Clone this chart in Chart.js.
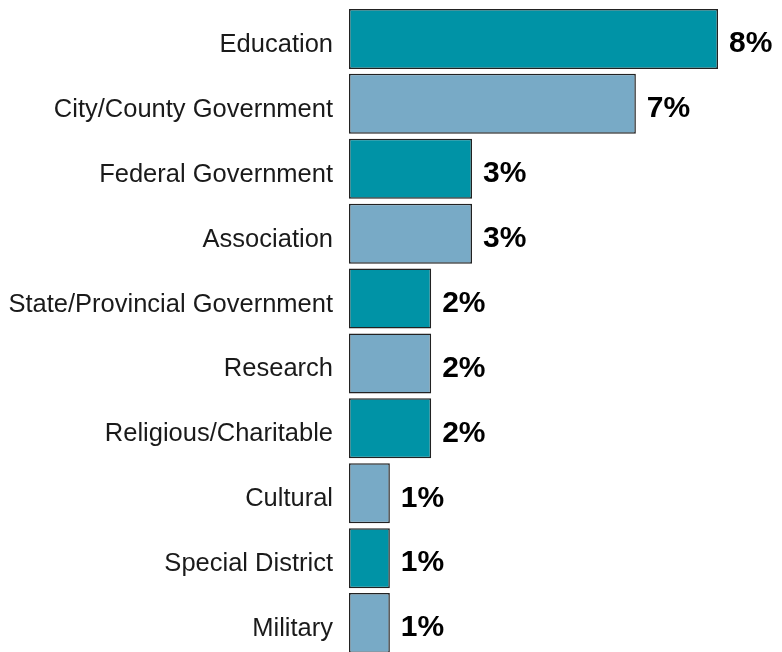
<!DOCTYPE html>
<html>
<head>
<meta charset="utf-8">
<script src="https://cdn.jsdelivr.net/npm/chart.js@4.4.0/dist/chart.umd.min.js"></script>
<style>
	html, body { margin: 0; padding: 0; background: #fff; overflow: hidden; }
	#wrap { width: 782px; height: 660px; }
</style>
</head>
<body>
<div id="wrap"><canvas id="sectors"></canvas></div>
<script>
// sectors, top to bottom
const categories = [
	"Education",
	"City/County Government",
	"Federal Government",
	"Association",
	"State/Provincial Government",
	"Research",
	"Religious/Charitable",
	"Cultural",
	"Special District",
	"Military"
];
// share of respondents (%)
const shares = [8.4, 6.53, 2.8, 2.8, 1.87, 1.87, 1.87, 0.93, 0.93, 0.93];
// labels as printed next to each bar
const shareLabels = ["8%", "7%", "3%", "3%", "2%", "2%", "2%", "1%", "1%", "1%"];

const TEAL = "#0093a6";
const STEEL = "#78aac6";

// bars alternate between the two blues
const barColors = categories.map((c, i) => i % 2 === 0 ? TEAL : STEEL);

// draw the bold % labels past the end of each bar
const valueLabels = {
	id: "valueLabels",
	afterDatasetsDraw(chart) {
		const ctx = chart.ctx;
		const meta = chart.getDatasetMeta(0);
		ctx.save();
		ctx.font = "bold 30px 'Liberation Sans', Arial, sans-serif";
		ctx.fillStyle = "#000";
		ctx.textAlign = "left";
		ctx.textBaseline = "middle";
		meta.data.forEach((bar, i) => {
			ctx.fillText(shareLabels[i], bar.x + 11, bar.y + 5);
		});
		ctx.restore();
	}
};

new Chart(document.getElementById("sectors"), {
	type: "bar",
	data: {
		labels: categories,
		datasets: [{
			data: shares,
			backgroundColor: barColors,
			borderColor: "#222",
			borderWidth: 1.5,
			borderSkipped: false,
			barPercentage: 0.925,
			categoryPercentage: 1
		}]
	},
	options: {
		indexAxis: "y",
		responsive: true,
		maintainAspectRatio: false,
		animation: false,
		layout: { padding: { top: 6.5, bottom: 4.5, left: 0, right: 64 } },
		plugins: {
			legend: { display: false },
			tooltip: { enabled: false }
		},
		scales: {
			x: {
				display: false,
				min: 0,
				max: 8.4
			},
			y: {
				grid: { display: false, drawTicks: false },
				border: { display: false },
				ticks: {
					color: "#1a1a1a",
					padding: 16,
					labelOffset: 6, // names sit a little below bar centre
					font: { family: "'Liberation Sans', Arial, sans-serif", size: 25.5 }
				},
				afterFit(axis) {
					axis.width = 349; // bars start at x=349
					axis.paddingTop = 0;
					axis.paddingBottom = 0;
				}
			}
		}
	},
	plugins: [valueLabels]
});
</script>
</body>
</html>
